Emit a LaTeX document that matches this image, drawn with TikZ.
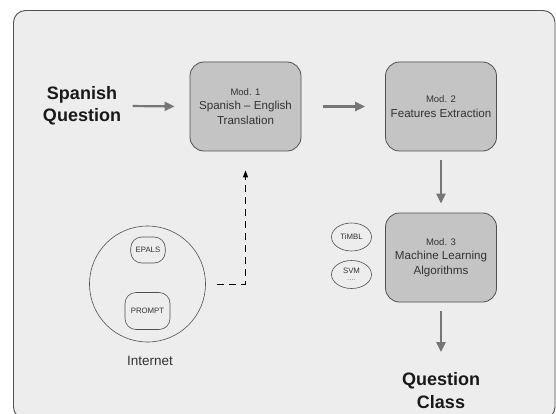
\documentclass[tikz,border=0pt]{standalone}
\usepackage{fontspec}
\setmainfont{Liberation Sans}
\usepackage{tikz}
\usetikzlibrary{arrows.meta,shapes.geometric}

\definecolor{panelgray}{HTML}{EDEDED}
\definecolor{modgray}{HTML}{C4C4C4}
\definecolor{edgegray}{HTML}{505050}
\definecolor{arrowgray}{HTML}{767676}
\definecolor{txtgray}{HTML}{333333}

\begin{document}
\begin{tikzpicture}[x=1pt,y=-1pt,
    modbox/.style={draw=edgegray,fill=modgray,rounded corners=14pt,line width=0.8pt,
      minimum width=111pt,minimum height=89pt,align=center,text=txtgray,
      font=\fontsize{11.6}{14.5}\selectfont},
    bigtext/.style={align=center,font=\fontsize{18}{22.5}\selectfont\bfseries,text=black!90},
    toolbox/.style={draw=edgegray,rounded corners=11pt,line width=0.6pt,text=txtgray,
      font=\fontsize{7.8}{8}\selectfont,inner sep=0pt},
    algo/.style={draw=edgegray,ellipse,line width=0.6pt,minimum width=40pt,minimum height=28pt,
      inner sep=0pt,align=center,text=txtgray,font=\fontsize{7.8}{8.5}\selectfont},
    flow/.style={draw=arrowgray,line width=2.2pt,-{Triangle[length=10pt,width=9pt]}},
    webflow/.style={draw=black,line width=1pt,dash pattern=on 7pt off 5pt,
      -{Triangle[length=7pt,width=5pt]}}]
            \useasboundingbox (0,0) rectangle (556,414);
            \fill[white] (0,0) rectangle (556,414);
            \draw[edgegray,fill=panelgray,line width=0.9pt,rounded corners=12pt] (13.5,10.5) rectangle (555,419);
            % modules
            \node[modbox] (mod1) at (245.5,106.5) {{\fontsize{9.5}{14.5}\selectfont Mod. 1}\\Spanish -- English\\Translation};
            \node[modbox] (mod2) at (441,106.5) {{\fontsize{9.5}{14.5}\selectfont Mod. 2}\\Features Extraction};
            \node[modbox] (mod3) at (441,257.5) {{\fontsize{9.5}{14.5}\selectfont Mod. 3}\\Machine Learning\\Algorithms};
            \node[bigtext] (spanq) at (82,106) {Spanish\\Question};
            \node[bigtext] (qclass) at (441,390.5) {Question\\Class};
            % internet resources
            \node[draw=edgegray,circle,line width=0.6pt,minimum size=116pt] (web) at (147.5,284) {};
            \node[toolbox,minimum width=34.5pt,minimum height=26pt] (epals) at (148,250) {EPALS};
            \node[toolbox,minimum width=45pt,minimum height=37pt] (prompt) at (147.5,311) {PROMPT};
            \node[text=txtgray,font=\fontsize{13.5}{15}\selectfont] (weblabel) at (150,361) {Internet};
            % learners
            \node[algo] (timbl) at (351.5,237) {TiMBL};
            \node[algo] (svm) at (351.5,274.5) {SVM\\[-1pt]{\color{gray}....}};
            % connections
            \draw[flow,shorten <=8pt,shorten >=15pt] (spanq.east) -- (mod1.west);
            \draw[flow,shorten <=22pt,shorten >=20pt] (mod1.east) -- (mod2.west);
            \draw[flow,shorten <=9pt,shorten >=9pt] (mod2.south) -- (mod3.north);
            \draw[flow,shorten <=9pt,shorten >=17pt] (mod3.south) -- (qclass.north);
            \draw[webflow,shorten <=11.5pt,shorten >=19pt] (web.east) -| (mod1.south);
        \end{tikzpicture}
\end{document}
